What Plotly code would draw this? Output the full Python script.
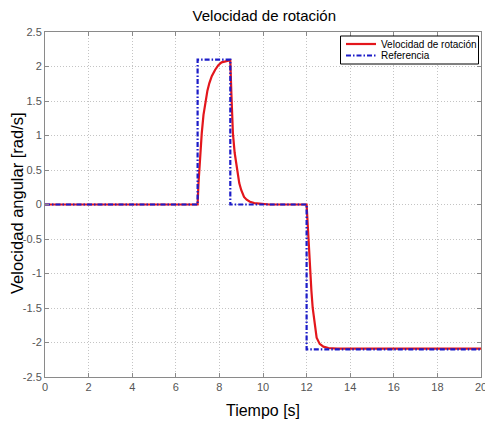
import plotly.graph_objects as go

# Reference signal (step profile)
t_ref = [0, 7.0, 7.0, 8.5, 8.5, 12.0, 12.0, 20.0]
w_ref = [0, 0, 2.1, 2.1, 0, 0, -2.1, -2.1]

t_vel = [0, 7.0, 7.04, 7.08, 7.13, 7.19, 7.27, 7.37, 7.45, 7.54, 7.65, 7.80, 7.95, 8.10, 8.30, 8.50,
         8.55, 8.62, 8.70, 8.78, 8.85, 8.91, 9.00, 9.13, 9.25, 9.40, 9.60, 9.90, 10.3, 12.0,
         12.04, 12.08, 12.16, 12.22, 12.28, 12.36, 12.46, 12.60, 12.77, 13.0, 13.4, 20.0]
w_vel = [0, 0, 0.30, 0.55, 0.80, 1.03, 1.30, 1.51, 1.65, 1.76, 1.86, 1.95, 2.02, 2.06, 2.08, 2.09,
         1.60, 1.03, 0.75, 0.55, 0.42, 0.31, 0.21, 0.11, 0.07, 0.04, 0.02, 0.01, 0.0, 0.0,
         -0.25, -0.49, -0.97, -1.25, -1.50, -1.72, -1.93, -2.02, -2.06, -2.08, -2.09, -2.09]

x_ticks = [0, 2, 4, 6, 8, 10, 12, 14, 16, 18, 20]
y_ticks = [-2.5, -2, -1.5, -1, -0.5, 0, 0.5, 1, 1.5, 2, 2.5]
y_labels = ["-2.5", "-2", "-1.5", "-1", "-0.5", "0", "0.5", "1", "1.5", "2", "2.5"]
legend_names = ["Velocidad de rotación", "Referencia"]
y_title = "Velocidad angular [rad/s]"

FONT = "Liberation Sans, Arial, sans-serif"
RED = "#e3161c"
BLUE = "#1c1cc8"
BLUE_DASH = "5px,2px,1.5px,2px"

fig = go.Figure()
fig.add_trace(go.Scatter(x=t_vel, y=w_vel, mode="lines", name=legend_names[0],
                         line=dict(color=RED, width=2.2)))
fig.add_trace(go.Scatter(x=t_ref, y=w_ref, mode="lines", name=legend_names[1],
                         line=dict(color=BLUE, width=2.2, dash=BLUE_DASH)))

axis_common = dict(showline=True, linecolor="#8a8a8a", linewidth=1, mirror="ticks",
                   ticks="inside", ticklen=4, tickcolor="#8a8a8a",
                   showgrid=True, gridcolor="#c4c4c4", griddash="1px,2px", gridwidth=1,
                   zeroline=False, ticklabeloverflow="allow", automargin=False,
                   tickfont=dict(family=FONT, size=11, color="#555555"))

# Custom MATLAB-like legend box (plot-area pixel geometry: 436 x 345)
PW, PH = 436.0, 345.0
def px(xp):
    return (xp - 45) / PW
def py(yp):
    return (377 - yp) / PH

shapes = [
    dict(type="rect", xref="paper", yref="paper", x0=px(340.5), x1=px(478.5), y0=py(64), y1=py(36),
         line=dict(color="black", width=1), fillcolor="white", layer="above"),
    dict(type="line", xref="paper", yref="paper", x0=px(346), x1=px(376), y0=py(44), y1=py(44),
         line=dict(color=RED, width=2.2), layer="above"),
    dict(type="line", xref="paper", yref="paper", x0=px(346), x1=px(376), y0=py(55.5), y1=py(55.5),
         line=dict(color=BLUE, width=2.2, dash=BLUE_DASH), layer="above"),
]
annotations = [
    dict(text=legend_names[0], xref="paper", yref="paper", x=px(379), y=py(44),
         xanchor="left", yanchor="middle", showarrow=False,
         font=dict(family=FONT, size=10, color="black")),
    dict(text=legend_names[1], xref="paper", yref="paper", x=px(379), y=py(55.5),
         xanchor="left", yanchor="middle", showarrow=False,
         font=dict(family=FONT, size=10, color="black")),
    dict(text=y_title, xref="paper", yref="paper", x=px(17), y=py(203),
         xanchor="center", yanchor="middle", textangle=-90, showarrow=False,
         font=dict(family=FONT, size=16.5, color="black")),
]

fig.update_layout(
    width=485, height=423,
    margin=dict(l=45, r=4, t=32, b=46),
    paper_bgcolor="white", plot_bgcolor="white",
    title=dict(text="Velocidad de rotación", x=0.545, xanchor="center",
               y=1 - 16 / 423, yanchor="middle", yref="container",
               font=dict(family=FONT, size=15, color="black")),
    xaxis=dict(range=[0, 20], tickvals=x_ticks,
               title=dict(text="Tiempo [s]", standoff=12,
                          font=dict(family=FONT, size=16, color="black")),
               **axis_common),
    yaxis=dict(range=[-2.5, 2.5], tickvals=y_ticks, ticktext=y_labels, **axis_common),
    shapes=shapes,
    annotations=annotations,
    showlegend=False,
)

fig.write_html("out.html")
